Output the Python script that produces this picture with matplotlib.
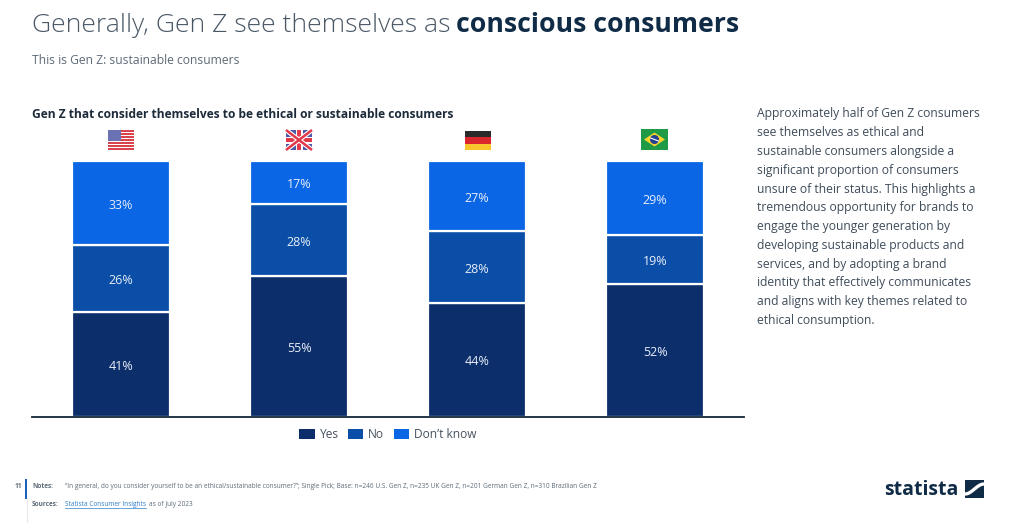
import numpy as np
from matplotlib import pyplot as plt
from matplotlib.patches import Rectangle, Polygon, Ellipse

countries = ["U.S.", "UK", "Germany", "Brazil"]
# German shares do not add up to 100 once rounded, the bars are full height anyway
yes = [41, 55, 44.4, 52]
no = [26, 28, 28.2, 19]
dont_know = [33, 17, 27.4, 29]

body_lines = [
    "Approximately half of Gen Z consumers",
    "see themselves as ethical and",
    "sustainable consumers alongside a",
    "significant proportion of consumers",
    "unsure of their status. This highlights a",
    "tremendous opportunity for brands to",
    "engage the younger generation by",
    "developing sustainable products and",
    "services, and by adopting a brand",
    "identity that effectively communicates",
    "and aligns with key themes related to",
    "ethical consumption.",
]

NAVY = "#0c2f6b"
MID = "#0b4ea8"
BRIGHT = "#0a66e4"
DARK = "#0f2b46"
GREY = "#5e6b78"

plt.rcParams["font.family"] = ["Open Sans", "DejaVu Sans"]


def us_flag(pg):
    pg.add_patch(Rectangle((108, 130), 26, 20, fc="white", ec="none"))
    for i in range(7):
        pg.add_patch(Rectangle((108, 130 + i * 3.08), 26, 1.54, fc="#d8434e", ec="none"))
    pg.add_patch(Rectangle((108, 130), 13, 10.5, fc="#6a72b4", ec="none"))


def uk_flag(pg):
    pg.add_patch(Rectangle((286, 130), 26, 20, fc="#4a58a6", ec="none"))
    pg.plot([286, 312], [130, 150], color="white", lw=3.4, solid_capstyle="butt")
    pg.plot([286, 312], [150, 130], color="white", lw=3.4, solid_capstyle="butt")
    pg.plot([286, 312], [130, 150], color="#e0394a", lw=1.8, solid_capstyle="butt")
    pg.plot([286, 312], [150, 130], color="#e0394a", lw=1.8, solid_capstyle="butt")
    pg.add_patch(Rectangle((295.5, 130), 7, 20, fc="white", ec="none"))
    pg.add_patch(Rectangle((286, 136.5), 26, 7, fc="white", ec="none"))
    pg.add_patch(Rectangle((297, 130), 4, 20, fc="#e0394a", ec="none"))
    pg.add_patch(Rectangle((286, 138), 26, 4, fc="#e0394a", ec="none"))


def german_flag(pg):
    pg.add_patch(Rectangle((464.5, 130.5), 26, 6.5, fc="#2a2a2a", ec="none"))
    pg.add_patch(Rectangle((464.5, 137), 26, 6.5, fc="#d9262c", ec="none"))
    pg.add_patch(Rectangle((464.5, 143.5), 26, 6.5, fc="#fbc62c", ec="none"))


def brazil_flag(pg):
    pg.add_patch(Rectangle((641, 129), 27, 21, fc="#1f9a45", ec="none"))
    pg.add_patch(Polygon([(644, 139.5), (654.5, 132.5), (665, 139.5), (654.5, 146.5)],
                         fc="#f6d32d", ec="none"))
    pg.add_patch(Ellipse((654.5, 139.5), 9, 9, fc="#24408e", ec="none"))
    pg.plot([650.5, 658.5], [138, 141], color="white", lw=0.8)


def logo(pg):
    pg.text(884, 490, "statista", fontsize=14, fontweight="bold", color=DARK,
            ha="left", va="center")
    pg.add_patch(Rectangle((965, 480), 19, 18, fc=DARK, ec="none"))
    xs = np.linspace(965, 984, 30)
    pg.plot(xs, 489 + 5 * np.cos((xs - 965) / 19 * np.pi), color="white", lw=2.4,
            solid_capstyle="butt")


def main():
    fig = plt.figure(figsize=(10.24, 5.23), dpi=100, facecolor="white")

    # page layer in pixel coordinates, for text and furniture around the chart
    pg = fig.add_axes([0, 0, 1, 1])
    pg.set_xlim(0, 1024)
    pg.set_ylim(523, 0)
    pg.axis("off")

    ax = fig.add_axes([32 / 1024, 1 - 416.5 / 523, 712 / 1024, 255.5 / 523])
    x = np.arange(len(countries))
    bottom = np.zeros(len(countries))
    for vals, col, name in [(yes, NAVY, "Yes"), (no, MID, "No"), (dont_know, BRIGHT, "Don\u2019t know")]:
        bars = ax.bar(x, vals, width=0.545, bottom=bottom, color=col, edgecolor="white",
                      linewidth=1.6, label=name)
        for b, v in zip(bars, vals):
            ax.annotate(f"{v:.0f}%", (b.get_x() + b.get_width() / 2, b.get_y() + v / 2),
                        xytext=(0, -1.5), textcoords="offset points",
                        color="#e8eef8", fontsize=9, ha="center", va="center")
        bottom += np.array(vals)
    ax.set_xlim(-0.5, 3.5)
    ax.set_ylim(0, 100)
    ax.set_xticks([])
    ax.set_yticks([])
    for s in ["top", "left", "right"]:
        ax.spines[s].set_visible(False)
    ax.spines["bottom"].set_color("#14263c")
    ax.spines["bottom"].set_linewidth(1.3)
    ax.patch.set_alpha(0)

    leg = ax.legend(loc="upper center", bbox_to_anchor=(0.5, -0.002), ncol=3, frameon=False,
                    fontsize=8.6, handlelength=1.27, handleheight=0.95, handletextpad=0.42,
                    columnspacing=0.8, labelcolor="#47525e")
    for h in leg.legend_handles:
        h.set_edgecolor("none")

    # headline
    pg.text(32, 25.5, "Generally, Gen Z see themselves as", fontsize=19.05, color="#4a5866",
            fontweight="light", ha="left", va="center")
    pg.text(456, 25.5, "conscious consumers", fontsize=19.2, color=DARK, fontweight="bold",
            ha="left", va="center")
    pg.text(32, 61, "This is Gen Z: sustainable consumers", fontsize=8.7, color=GREY,
            ha="left", va="center")
    pg.text(32, 114, "Gen Z that consider themselves to be ethical or sustainable consumers",
            fontsize=8.66, color="#1d2b3a", fontweight="bold", ha="left", va="center")

    us_flag(pg)
    uk_flag(pg)
    german_flag(pg)
    brazil_flag(pg)

    for i, line in enumerate(body_lines):
        pg.text(757, 114 + i * 18.77, line, fontsize=8.7, color="#3f4c5a", ha="left", va="center")

    # footer
    pg.add_patch(Rectangle((25, 479), 2, 20, fc="#1f5fbf", ec="none"))
    pg.plot([27, 27], [499, 523], color="#e6e9ec", lw=0.8)
    pg.text(15, 487, "11", fontsize=4.7, fontweight="bold", color=GREY, ha="left", va="center")
    pg.text(32, 487, "Notes:", fontsize=4.7, fontweight="bold", color=GREY, ha="left", va="center")
    pg.text(65, 487, "\u201cIn general, do you consider yourself to be an ethical/sustainable consumer?\u201d; "
            "Single Pick; Base: n=246 U.S. Gen Z, n=235 UK Gen Z, n=201 German Gen Z, n=310 Brazilian Gen Z",
            fontsize=4.71, color=GREY, ha="left", va="center")
    pg.text(32, 505, "Sources:", fontsize=4.7, fontweight="bold", color=GREY, ha="left", va="center")
    pg.text(65, 505, "Statista Consumer Insights", fontsize=4.7, color="#2f7fc8", ha="left", va="center")
    pg.plot([65, 146], [508, 508], color="#2f7fc8", lw=0.5)
    pg.text(149, 505, "as of July 2023", fontsize=4.7, color=GREY, ha="left", va="center")

    logo(pg)
    pg.set_xlim(0, 1024)
    pg.set_ylim(523, 0)

    fig.savefig("out.png", dpi=100)


if __name__ == '__main__':
    main()
